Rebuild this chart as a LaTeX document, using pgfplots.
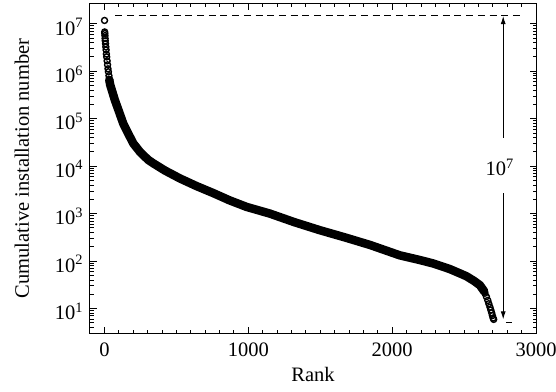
\documentclass[border=0pt]{standalone}
\usepackage{pgfplots}
\pgfplotsset{compat=1.18}
\usepackage{pgfplotstable}
\usepackage{fontspec}
\setmainfont{Liberation Serif}
\usetikzlibrary{arrows.meta}

\pgfplotstableread{
rank value
1 1.17e7
2 6.7e6
3 6.2e6
4 5.6e6
5 4.9e6
6 4.35e6
8 3.8e6
10 3.25e6
12 2.8e6
14 2.3e6
16 2.0e6
19 1.65e6
22 1.36e6
25 1.12e6
28 9.7e5
32 8.0e5
36 6.6e5
}\headdata

\pgfplotstableread{
rank value
34 6.6e5
40 5.2e5
73 2.45e5
100 1.45e5
131 7.9e4
165 4.9e4
201 3.0e4
250 1.95e4
305 1.35e4
339 1.15e4
420 8.1e3
525 5.5e3
640 3.8e3
757 2.7e3
870 1.9e3
989 1.38e3
1150 1.0e3
1320 660
1497 447
1670 316
1845 219
2053 132
2193 105
2285 89
2400 68
2516 48
2570 38
2610 31
2640 23
}\bodydata

\pgfplotstableread{
rank value
2645 21
2655 17.8
2665 14.8
2672 12.6
2680 10.7
2686 9.3
2692 8.1
2697 7.1
2702 6.3
2706 5.9
}\taildata

\begin{document}
\fontsize{20.5}{24}\selectfont%
\begin{tikzpicture}
\useasboundingbox (-90pt,-58pt) rectangle (466pt,333pt);
\begin{axis}[
  at={(0,0)}, anchor=south west,
  scale only axis, width=446pt, height=329pt,
  xmin=-100, xmax=3000,
  ymode=log, log basis y=10, ymin=3.05, ymax=2.6e7,
  xtick={0,1000,2000,3000}, xticklabels={0,1000,2000,3000},
  scaled x ticks=false,
  minor x tick num=9,
  yticklabel={10\textsuperscript{\pgfmathparse{int(round(\tick))}\pgfmathresult}},
  yticklabel style={yshift=-3pt},
  xticklabel style={yshift=-3pt},
  axis line style={line width=1pt},
  every tick/.style={line width=0.8pt, black},
  major tick length=6.5pt, minor tick length=3.5pt,
  xlabel={Rank}, ylabel={Cumulative installation number},
  every axis x label/.style={at={(axis description cs:0.5,-0.146)}, anchor=base},
  every axis y label/.style={at={(axis description cs:-0.1525,0.5)}, rotate=90, anchor=center},
]
\addplot[black, line width=8.5pt, line join=round, line cap=round, no marks] table[x=rank, y=value] {\bodydata};
\addplot[black, only marks, mark=o, mark size=3pt, mark options={line width=1.4pt}] table[x=rank, y=value] {\headdata};
\addplot[black, only marks, mark=o, mark size=3pt, mark options={line width=1.4pt}] table[x=rank, y=value] {\taildata};
\addplot[black, line width=1.1pt, dash pattern=on 7pt off 4.7pt] coordinates {(75,1.47e7) (2890,1.47e7)};
\addplot[black, line width=1.1pt, dash pattern=on 7pt off 4.7pt] coordinates {(2790,5.1) (2836,5.1)};
\draw[-{Latex[length=8pt,width=5pt]}, line width=0.9pt] (axis cs:2772,3.98e4) -- (axis cs:2772,1.45e7);
\draw[-{Latex[length=8pt,width=5pt]}, line width=0.9pt] (axis cs:2772,2.7e3) -- (axis cs:2772,5.9);
\node at (axis cs:2747,9.5e3) {10\textsuperscript{7}};
\end{axis}
\end{tikzpicture}
\end{document}
